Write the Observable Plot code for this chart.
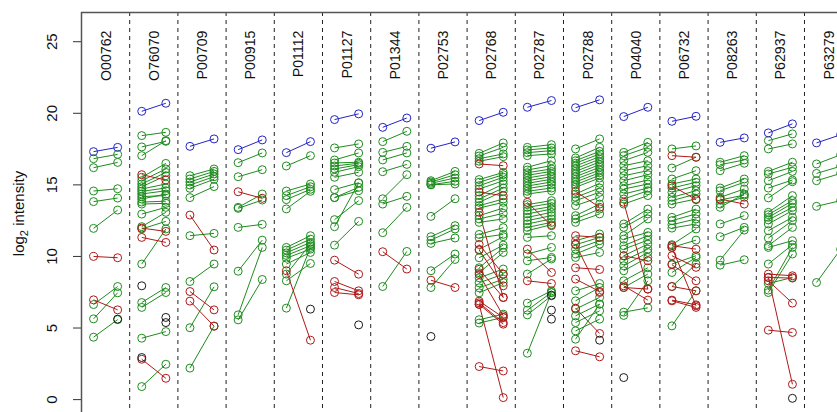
<!DOCTYPE html>
<html><head><meta charset="utf-8">
<script src="https://cdn.jsdelivr.net/npm/d3@7"></script>
<script src="https://cdn.jsdelivr.net/npm/@observablehq/plot@0.6"></script>
<style>html,body{margin:0;padding:0;background:#fff;overflow:hidden}</style>
</head><body><div id="chart"></div>
<script>
// Panel (protein) labels
const proteins = ["O00762","O76070","P00709","P00915","P01112","P01127","P01344","P02753",
  "P02768","P02787","P02788","P04040","P06732","P08263","P62937","P63279"];

// Protein-level summary pairs (blue), [left, right] log2 intensity
const proteinLevel = [[17.32,17.62],[20.14,20.70],[17.69,18.21],[17.46,18.14],[17.25,18.02],[19.56,19.96],
  [19.02,19.67],[17.56,18.00],[19.49,20.07],[20.42,20.89],[20.39,20.94],[19.77,20.42],[19.44,19.79],
  [17.97,18.28],[18.63,19.26],[17.93,18.50]];

// Peptide pairs per protein, [left, right]
const pep_O00762 = [[16.83,17.13],[16.20,16.57],[14.57,14.73],[13.83,14.08],[11.96,13.24],[10.00,9.91],[6.97,6.27],[6.64,7.90],[5.64,7.46],[4.36,5.59]];
const pep_O76070 = [[18.44,18.67],[17.65,18.04],[17.04,18.09],[15.71,15.34],[15.53,16.50],[15.29,16.11],[15.06,15.87],[14.87,15.64],[14.71,15.06],[14.55,14.78],[14.36,14.59],[14.18,14.25],[14.01,14.36],[13.80,13.86],[13.66,13.71],[12.96,13.43],[12.08,13.08],[11.92,12.45],[9.47,11.92],[11.98,11.75],[11.33,10.98],[6.78,7.83],[6.44,7.48],[4.29,4.75],[2.82,1.49],[0.91,2.47]];
const pep_P00709 = [[15.64,16.11],[15.41,15.94],[15.20,15.76],[14.99,15.57],[14.76,15.39],[14.11,14.88],[12.89,10.45],[11.45,11.61],[8.25,9.47],[7.55,6.27],[6.88,5.13],[5.02,7.88],[2.20,5.13]];
const pep_P00915 = [[16.55,17.23],[15.57,16.06],[14.52,14.06],[13.43,14.36],[13.36,13.94],[12.03,12.24],[8.97,11.14],[5.92,10.63],[5.57,8.39]];
const pep_P01112 = [[16.32,17.04],[14.57,15.06],[14.25,14.87],[13.97,14.69],[13.32,14.55],[10.63,11.45],[10.44,11.21],[10.25,10.98],[10.07,10.75],[9.88,10.51],[9.47,10.28],[8.77,10.86],[8.30,9.51],[6.39,10.63],[9.00,4.15]];
const pep_P01127 = [[17.58,17.86],[16.74,17.23],[16.53,16.58],[16.32,16.51],[16.11,16.41],[15.88,16.27],[15.53,15.88],[14.67,15.15],[14.11,14.83],[14.11,14.59],[12.57,13.90],[12.08,15.13],[10.79,12.45],[9.74,8.76],[8.25,7.60],[7.83,7.41],[7.48,7.32]];
const pep_P01344 = [[18.02,18.74],[17.27,17.69],[16.74,17.23],[15.92,16.43],[14.03,15.71],[13.66,14.20],[11.66,13.43],[10.33,9.12],[7.90,10.35]];
const pep_P02753 = [[15.29,15.94],[15.20,15.71],[15.11,15.48],[15.01,15.25],[15.01,15.06],[12.80,14.03],[11.38,12.15],[11.14,11.92],[10.91,11.29],[9.00,10.17],[7.83,9.79],[8.34,7.83]];
const pep_P02768 = [[17.20,17.93],[17.02,17.62],[16.83,17.16],[16.65,16.97],[16.46,16.34],[14.50,14.24],[13.08,7.13],[15.37,15.87],[15.18,15.71],[14.94,15.53],[14.71,15.29],[14.25,15.06],[14.01,14.78],[13.78,14.55],[13.55,14.01],[13.38,13.78],[12.85,13.38],[12.62,13.01],[12.38,12.62],[11.54,12.01],[11.30,11.54],[10.49,11.38],[9.91,10.79],[9.21,10.60],[8.86,10.28],[8.51,9.12],[8.16,8.76],[7.81,8.41],[7.46,8.18],[5.58,5.97],[5.35,5.74],[10.84,8.76],[10.45,7.95],[9.10,7.14],[8.74,5.86],[6.88,5.74],[6.76,5.38],[6.65,5.27],[2.31,2.00],[6.65,0.14]];
const pep_P02787 = [[17.62,17.81],[17.44,17.58],[17.25,17.39],[17.04,17.16],[16.23,16.69],[16.04,16.34],[15.85,16.11],[15.67,15.94],[15.48,15.76],[15.29,15.57],[15.11,15.39],[14.92,15.20],[14.74,15.01],[14.55,14.78],[14.36,14.59],[13.78,12.15],[13.62,13.90],[13.43,13.71],[13.20,13.48],[12.97,13.31],[12.73,13.08],[12.50,12.85],[12.27,12.62],[12.03,12.38],[11.80,12.22],[11.33,11.45],[10.51,8.88],[10.17,10.63],[9.70,9.93],[8.77,9.82],[8.30,8.11],[6.74,7.60],[6.25,7.48],[5.92,7.25],[3.24,7.48]];
const pep_P02788 = [[17.51,18.21],[16.88,17.62],[16.69,17.34],[16.51,17.16],[16.32,16.97],[16.13,16.79],[15.94,16.60],[15.76,16.41],[15.57,16.23],[15.39,16.04],[15.20,15.85],[15.01,15.67],[14.83,15.48],[14.55,13.43],[14.36,15.11],[14.13,14.78],[13.90,14.48],[13.55,14.13],[12.85,13.66],[12.62,13.31],[12.38,12.97],[11.45,11.33],[11.10,11.57],[10.82,11.33],[10.51,11.10],[10.17,10.86],[9.93,10.28],[10.86,7.48],[9.21,9.09],[7.60,8.11],[6.90,7.83],[6.32,7.14],[5.85,6.67],[5.38,6.20],[4.80,5.62],[4.22,6.67],[6.39,4.62],[3.41,2.99],[8.42,7.55]];
const pep_P04040 = [[17.27,17.97],[17.04,17.62],[16.69,17.27],[16.34,16.69],[15.99,16.34],[15.64,15.99],[15.29,15.71],[14.94,15.34],[14.71,15.06],[14.36,14.78],[14.01,14.59],[13.66,14.25],[13.78,7.72],[12.27,13.31],[12.03,12.97],[11.45,12.62],[11.21,11.68],[10.75,11.45],[10.51,11.14],[10.05,10.86],[10.05,9.70],[9.70,10.51],[9.35,10.28],[9.00,9.93],[8.30,9.21],[7.83,8.77],[7.83,7.72],[7.95,6.95],[6.11,6.41],[5.88,8.30]];
const pep_P06732 = [[17.51,17.72],[17.04,16.93],[16.18,16.93],[15.41,15.99],[15.06,15.41],[14.78,15.18],[14.48,14.94],[14.13,14.59],[13.90,14.36],[13.66,14.01],[14.94,13.97],[12.73,13.31],[12.50,12.97],[12.22,12.62],[11.98,12.27],[10.82,11.92],[10.63,11.14],[10.75,10.51],[10.63,6.55],[10.05,9.24],[9.47,10.05],[8.88,9.93],[7.90,9.47],[9.42,8.30],[7.90,7.60],[6.95,6.62],[6.90,6.44],[5.15,7.60]];
const pep_P08263 = [[16.58,17.04],[16.41,16.74],[15.99,16.51],[14.78,15.41],[14.59,15.18],[14.13,14.71],[13.94,14.29],[13.66,14.13],[13.43,14.36],[14.01,13.66],[12.27,12.85],[11.38,12.03],[9.74,11.84],[9.39,9.77]];
const pep_P62937 = [[18.09,18.56],[17.51,17.86],[15.94,16.58],[15.76,16.23],[15.29,15.94],[14.78,15.34],[14.09,15.22],[13.08,14.25],[12.92,13.90],[12.73,13.71],[12.55,13.43],[12.27,13.20],[11.80,12.73],[11.28,12.50],[10.75,12.03],[10.63,11.10],[9.47,10.82],[7.65,10.63],[7.48,10.17],[8.77,8.65],[8.53,8.49],[8.30,6.74],[4.85,4.69],[8.53,1.07],[8.11,8.53]];
const pep_P63279 = [[16.46,17.10],[15.80,16.30],[15.29,15.80],[13.50,13.90],[8.18,10.50]];

const peptideSets = [pep_O00762,pep_O76070,pep_P00709,pep_P00915,pep_P01112,pep_P01127,pep_P01344,pep_P02753,
  pep_P02768,pep_P02787,pep_P02788,pep_P04040,pep_P06732,pep_P08263,pep_P62937,pep_P63279];

// Unpaired observations (black): [protein index, side (1 = left, 2 = right), value]
const singles = [[0,2,5.62],[1,1,7.95],[1,2,5.74],[1,2,5.38],[1,1,2.94],[4,2,6.32],[5,2,5.22],[7,1,4.41],
  [9,2,7.29],[9,2,6.25],[9,2,5.62],[10,2,4.15],[11,1,1.54],[14,2,0.09]];

const yTicks = [0, 5, 10, 15, 20, 25];

const kinds = ["up", "down", "protein", "single"];
const kindColors = ["#1e8c1e", "#b01818", "#2424c4", "#1a1a1a"];

// Build link and point tables
const segs = [];
peptideSets.forEach((set, i) => set.forEach(([a, b]) => segs.push({i, a, b, kind: b > a ? "up" : "down"})));
proteinLevel.forEach(([a, b], i) => segs.push({i, a, b, kind: "protein"}));
const pts = [];
segs.forEach(s => { pts.push({x: 2*s.i + 1, y: s.a, kind: s.kind}); pts.push({x: 2*s.i + 2, y: s.b, kind: s.kind}); });
singles.forEach(([i, side, v]) => pts.push({x: 2*i + side, y: v, kind: "single"}));
const order = {up: 0, down: 1, protein: 2, single: 3};
segs.sort((p, q) => order[p.kind] - order[q.kind]);
pts.sort((p, q) => order[p.kind] - order[q.kind]);

const separators = d3.range(1, proteins.length).map(k => 2*k + 0.5);
const yMin = -1.04, yMax = 27.04;

const chart = Plot.plot({
  width: 837, height: 414,
  marginLeft: 81, marginRight: 0, marginTop: 12, marginBottom: 0,
  style: {fontFamily: "'Liberation Sans', Arial, sans-serif", background: "#fff"},
  x: {domain: [0.5, 31.87], axis: null},
  y: {domain: [yMin, yMax]},
  color: {domain: kinds, range: kindColors},
  marks: [
    Plot.ruleX(separators, {stroke: "#222", strokeWidth: 1, strokeDasharray: "4,4"}),
    Plot.axisY(yTicks, {tickSize: 8, tickFormat: () => "", label: null, stroke: "#333", strokeWidth: 1}),
    Plot.text(yTicks, {x: 0.5, y: d => d, text: d => String(d), rotate: -90, dx: -29, fontSize: 15, fill: "#111"}),
    Plot.text(["log2 intensity"], {x: 0.5, y: (yMin + yMax) / 2, text: d => d, rotate: -90, dx: -62, fontSize: 15, fill: "#111", className: "ylab"}),
    Plot.text(proteins, {x: (d, i) => 2*i + 1.5, frameAnchor: "top", dx: -5, dy: 18, text: d => d, rotate: -90, textAnchor: "end", fontSize: 14.2, fill: "#111"}),
    Plot.link(segs, {x1: d => 2*d.i + 1, y1: "a", x2: d => 2*d.i + 2, y2: "b", stroke: "kind", strokeWidth: 1}),
    Plot.dot(pts, {x: "x", y: "y", stroke: "kind", r: 4, strokeWidth: 1, fill: "none"}),
    Plot.ruleX([0.5], {stroke: "#555", strokeWidth: 1.5}),
    Plot.ruleY([yMax], {stroke: "#555", strokeWidth: 1.5})
  ]
});
document.getElementById("chart").appendChild(chart);
// subscript in the axis label
const lab = chart.querySelector(".ylab text") || [...chart.querySelectorAll("text")].find(t => t.textContent === "log2 intensity");
if (lab) {
  lab.textContent = "";
  const ns = "http://www.w3.org/2000/svg";
  const t1 = document.createElementNS(ns, "tspan"); t1.textContent = "log";
  const t2 = document.createElementNS(ns, "tspan"); t2.textContent = "2"; t2.setAttribute("font-size", "11"); t2.setAttribute("dy", "4");
  const t3 = document.createElementNS(ns, "tspan"); t3.textContent = " intensity"; t3.setAttribute("dy", "-4");
  lab.append(t1, t2, t3);
}
</script></body></html>
